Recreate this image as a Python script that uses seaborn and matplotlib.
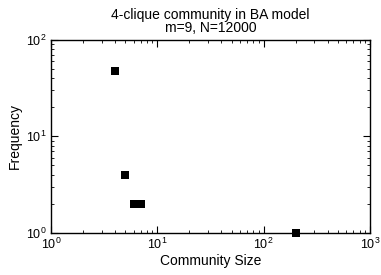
import matplotlib
matplotlib.use("Agg")
import matplotlib.pyplot as plt
import seaborn as sns
import pandas as pd

sizes = [4, 5, 6, 7, 200]
freqs = [48, 4, 2, 2, 1]

sns.set_style("ticks")
plt.rcParams['font.family'] = ['Liberation Sans', 'DejaVu Sans']
plt.rcParams['text.color'] = 'black'
plt.rcParams['axes.labelcolor'] = 'black'

fig = plt.figure(figsize=(3.81, 2.75), dpi=100)
ax = fig.add_axes([0.134, 0.153, 0.837, 0.702])
df = pd.DataFrame({"size": sizes, "freq": freqs})
sns.scatterplot(data=df, x="size", y="freq", marker="s", color="black", s=28,
                edgecolor="black", linewidth=0, ax=ax, clip_on=False, zorder=5)
ax.set_xscale("log")
ax.set_yscale("log")
ax.set_xlim(1, 1000)
ax.set_ylim(1, 100)
ax.set_xlabel("Community Size", fontsize=10, labelpad=1, color="black")
ax.set_ylabel("Frequency", fontsize=10, labelpad=3, color="black")
ax.set_title("4-clique community in BA model\nm=9, N=12000", fontsize=10,
             linespacing=0.9, pad=6, color="black")
for s in ax.spines.values():
    s.set_linewidth(1.0)
    s.set_color("black")
ax.tick_params(which="both", direction="in", top=True, right=True, labelsize=9,
               colors="black")
ax.tick_params(which="major", length=5, width=0.8, pad=3)
ax.tick_params(which="minor", length=2.5, width=0.6)
fig.savefig("out.png", dpi=100)
